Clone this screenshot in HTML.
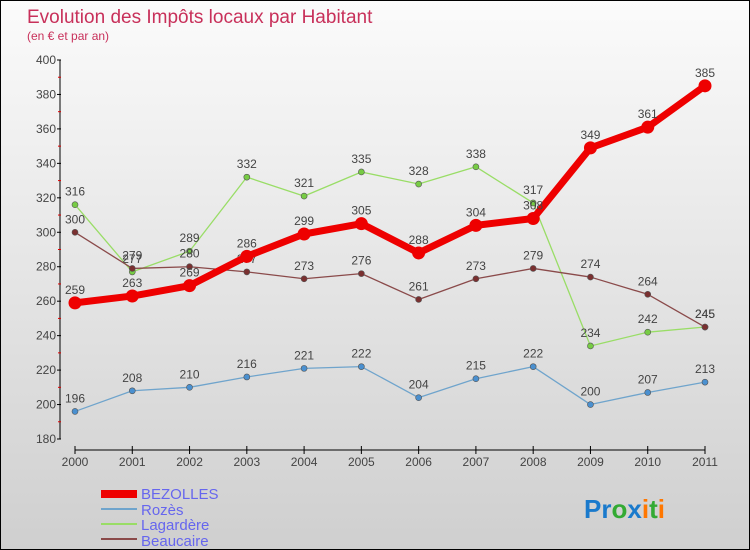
<!DOCTYPE html>
<html><head><meta charset="utf-8"><style>
body{margin:0}
#c{width:748px;height:548px;border:1px solid #000;background:linear-gradient(#fbfbfb,#cfcfcf);position:relative;overflow:hidden}
text{font-family:"Liberation Sans",sans-serif}
</style></head><body>
<div id="c">
<svg id="s" width="748" height="548" xmlns="http://www.w3.org/2000/svg">
<text x="26" y="22" font-size="19" fill="#c8305a">Evolution des Impôts locaux par Habitant</text>
<text x="26" y="39" font-size="12" fill="#c8305a">(en € et par an)</text>
<g id="axes"></g><g id="series"></g>
<g>
<rect x="100" y="489" width="36" height="8" fill="#e00"/>
<text x="140" y="498" font-size="15" fill="#6666ee">BEZOLLES</text>
<rect x="100" y="507" width="36" height="2" fill="#6fa4cc"/>
<text x="140" y="514" font-size="15" fill="#6666ee">Rozès</text>
<rect x="100" y="522" width="36" height="2" fill="#99dd66"/>
<text x="140" y="529" font-size="15" fill="#6666ee">Lagardère</text>
<rect x="100" y="537" width="36" height="2" fill="#8a4a4a"/>
<text x="140" y="545" font-size="15" fill="#6666ee">Beaucaire</text>
</g>
<text x="583" y="517" font-size="26" font-weight="bold"><tspan fill="#1a7acc">Pr</tspan><tspan fill="#33aa33">o</tspan><tspan fill="#1a7acc">x</tspan><tspan fill="#ff7700">i</tspan><tspan fill="#33aa33">t</tspan><tspan fill="#ff7700">i</tspan></text>
</svg></div>
<script>
const years=[2000,2001,2002,2003,2004,2005,2006,2007,2008,2009,2010,2011];
const yTicks=[180,200,220,240,260,280,300,320,340,360,380,400];
const bezolles=[259,263,269,286,299,305,288,304,308,349,361,385];
const rozes=[196,208,210,216,221,222,204,215,222,200,207,213];
const lagardere=[316,277,289,332,321,335,328,338,317,234,242,245];
const beaucaire=[300,279,280,277,273,276,261,273,279,274,264,245];
const NS="http://www.w3.org/2000/svg";
const X=i=>74+i*(630/11), Y=v=>59+(400-v)*379/220;
function el(t,a,p){const e=document.createElementNS(NS,t);for(const k in a)e.setAttribute(k,a[k]);p.appendChild(e);return e;}
const ax=document.getElementById('axes'),sg=document.getElementById('series');
let a=el('line',{x1:59,y1:59,x2:59,y2:Y(180),stroke:'#000'},ax);


a=el('line',{x1:74,y1:449,x2:704,y2:449,stroke:'#000'},ax);


yTicks.forEach((v,i)=>{
 el('line',{x1:56,y1:Y(v),x2:60,y2:Y(v),stroke:'#000'},ax);
 if(i>0)el('line',{x1:57,y1:Y(v-10),x2:60,y2:Y(v-10),stroke:'#d00'},ax);
 const t=el('text',{x:55,y:Y(v)+4,'font-size':12,fill:'#444','text-anchor':'end'},ax);
 t.textContent=v;
 
 
});
years.forEach((y,i)=>{
 el('line',{x1:X(i),y1:445,x2:X(i),y2:453,stroke:'#000'},ax);
 const t=el('text',{x:X(i),y:465,'font-size':12,fill:'#444','text-anchor':'middle'},ax);
 t.textContent=y;
 
 
});
function draw(vals,name,color,w,r,dot){
 const g=el('g',{},sg);
 
 
 el('polyline',{points:vals.map((v,i)=>X(i)+','+Y(v)).join(' '),fill:'none',stroke:color,'stroke-width':w,'stroke-linejoin':'round'},g);
 vals.forEach((v,i)=>{
  const c=el('circle',{cx:X(i),cy:Y(v),r:r,fill:dot,stroke:'#555','stroke-width':r>4?0:0.6},g);
  
  
  const t=el('text',{x:X(i),y:Y(v)-9,'font-size':12,fill:'#444','text-anchor':'middle'},g);
  t.textContent=v;
  
  
 });
}
draw(rozes,'rozes','#6fa4cc',1.3,3,'#4a90d0');
draw(lagardere,'lagardere','#99dd66',1.3,3,'#77cc44');
draw(beaucaire,'beaucaire','#8a4a4a',1.3,3,'#7a3030');
draw(bezolles,'bezolles','#ee0000',7,6.5,'#ee0000');
</script>
</body></html>
